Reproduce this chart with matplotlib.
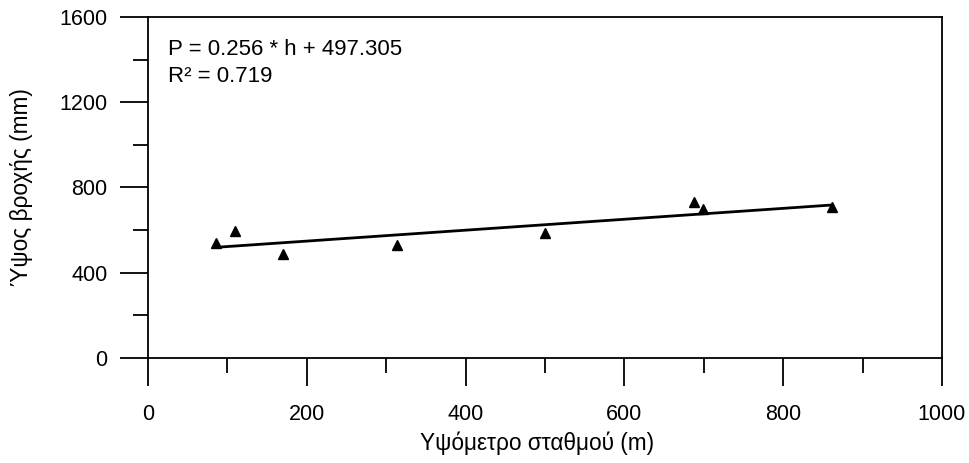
import matplotlib.pyplot as plt
import numpy as np
from matplotlib.ticker import MultipleLocator

plt.rcParams["font.family"] = ["Liberation Sans", "DejaVu Sans"]

# station elevation (m) and annual rainfall (mm)
elevation = [86, 110, 170, 313, 500, 688, 699, 861]
rainfall = [540, 598, 490, 530, 587, 733, 698, 707]

# fitted regression P = a * h + b
slope = 0.256
intercept = 497.305
r_squared = 0.719


def main():
    fig = plt.figure(figsize=(9.7, 4.63), dpi=100)
    ax = fig.add_axes([0.1526, 0.2268, 0.8185, 0.7365])

    ax.plot(elevation, rainfall, linestyle="none", marker="^", color="black",
            markersize=7, zorder=3)

    h = np.array([min(elevation), max(elevation)])
    ax.plot(h, slope * h + intercept, color="black", linewidth=2.0, zorder=2)

    ax.text(0.025, 0.905, f"P = {slope:.3f} * h + {intercept:.3f}",
            transform=ax.transAxes, fontsize=16, va="center", ha="left")
    ax.text(0.025, 0.825, f"R\u00b2 = {r_squared:.3f}",
            transform=ax.transAxes, fontsize=16, va="center", ha="left")

    ax.set_xlim(0, 1000)
    ax.set_ylim(0, 1600)
    ax.xaxis.set_major_locator(MultipleLocator(200))
    ax.xaxis.set_minor_locator(MultipleLocator(100))
    ax.yaxis.set_major_locator(MultipleLocator(400))
    ax.yaxis.set_minor_locator(MultipleLocator(200))

    for side in ax.spines.values():
        side.set_linewidth(1.3)
    ax.tick_params(which="major", direction="out", length=20, width=1.3,
                   labelsize=15.5)
    ax.tick_params(which="minor", direction="out", length=11, width=1.3)
    ax.tick_params(axis="x", which="major", pad=13)
    ax.tick_params(axis="y", which="major", pad=9)

    ax.set_xlabel("Υψόμετρο σταθμού (m)", fontsize=16.3, labelpad=5)
    ax.xaxis.set_label_coords(0.49, -0.215)
    ax.set_ylabel("Ύψος βροχής (mm)", fontsize=16.3, labelpad=19)

    fig.savefig("out.png", dpi=100)


if __name__ == "__main__":
    main()
